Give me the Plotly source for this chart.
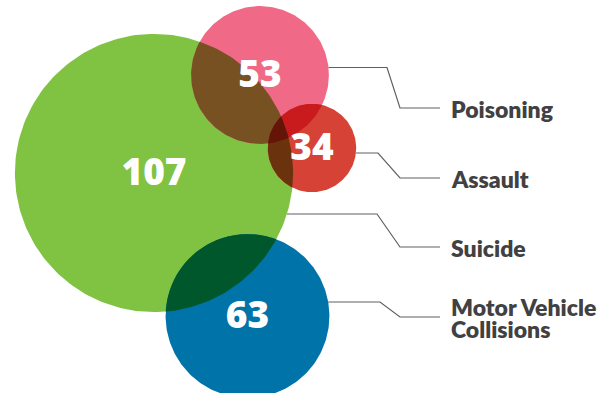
import math
import itertools
import plotly.graph_objects as go

# ---------------- data ----------------
categories = ["Poisoning", "Assault", "Suicide", "Motor Vehicle<br>Collisions"]
values = [53, 34, 107, 63]
value_labels = ["53", "34", "107", "63"]

# ---------------- layout / style ----------------
colors = ["#F06A87", "#D64236", "#80C242", "#0073A9"]
centers_x = [260, 312, 154, 247.5]
centers_y = [75, 148, 173, 316]
RADIUS_PER_UNIT = 1.30
draw_order = [2, 0, 1, 3]          # suicide, poisoning, assault, motor
NUMBER_DY = 3                      # optical vertical centering of the numbers

leader_start_y = [67.5, 153, 214, 302]
leader_elbow_x = [387, 378, 377, 380]
leader_end_y = [108, 178, 247, 317]
LEADER_DIAG_END_X = 400
LEADER_END_X = 440
LABEL_X = 449
LABEL_DY = 1
LABEL_LINE_HEIGHT = 22.6

W, H = 612, 393
radii = [RADIUS_PER_UNIT * v for v in values]


def hex_to_rgb(h):
    h = h.lstrip("#")
    return tuple(int(h[i:i + 2], 16) for i in (0, 2, 4))


def multiply(cols):
    r, g, b = 255.0, 255.0, 255.0
    for c in cols:
        cr, cg, cb = hex_to_rgb(c)
        r, g, b = r * cr / 255, g * cg / 255, b * cb / 255
    return "rgb(%d,%d,%d)" % (round(r), round(g), round(b))


def circle_poly(cx, cy, r, n=240):
    return [(cx + r * math.cos(2 * math.pi * k / n), cy + r * math.sin(2 * math.pi * k / n)) for k in range(n)]


def clip(subject, clipper):
    # Sutherland-Hodgman for a convex clipper
    def inside(p, a, b):
        return (b[0] - a[0]) * (p[1] - a[1]) - (b[1] - a[1]) * (p[0] - a[0]) >= 0

    def inter(p1, p2, a, b):
        x1, y1 = p1; x2, y2 = p2; x3, y3 = a; x4, y4 = b
        den = (x1 - x2) * (y3 - y4) - (y1 - y2) * (x3 - x4)
        if abs(den) < 1e-12:
            return p2
        t = ((x1 - x3) * (y3 - y4) - (y1 - y3) * (x3 - x4)) / den
        return (x1 + t * (x2 - x1), y1 + t * (y2 - y1))

    output = subject
    for i in range(len(clipper)):
        a, b = clipper[i], clipper[(i + 1) % len(clipper)]
        inp = output
        output = []
        if not inp:
            break
        s = inp[-1]
        for e in inp:
            if inside(e, a, b):
                if not inside(s, a, b):
                    output.append(inter(s, e, a, b))
                output.append(e)
            elif inside(s, a, b):
                output.append(inter(s, e, a, b))
            s = e
    return output


polys = [circle_poly(centers_x[i], centers_y[i], radii[i]) for i in range(len(values))]

fig = go.Figure()

# base circles
for i in draw_order:
    xs = [p[0] for p in polys[i]] + [polys[i][0][0]]
    ys = [p[1] for p in polys[i]] + [polys[i][0][1]]
    fig.add_trace(go.Scatter(x=xs, y=ys, mode="lines", fill="toself",
                             fillcolor=colors[i], line=dict(width=0, color=colors[i]),
                             hoverinfo="skip", showlegend=False))

# overlaps (multiply blend)
for size in (2, 3, 4):
    for combo in itertools.combinations(range(len(values)), size):
        poly = polys[combo[0]]
        for j in combo[1:]:
            poly = clip(poly, polys[j])
            if not poly:
                break
        if not poly or len(poly) < 3:
            continue
        col = multiply([colors[j] for j in combo])
        xs = [p[0] for p in poly] + [poly[0][0]]
        ys = [p[1] for p in poly] + [poly[0][1]]
        fig.add_trace(go.Scatter(x=xs, y=ys, mode="lines", fill="toself",
                                 fillcolor=col, line=dict(width=0, color=col),
                                 hoverinfo="skip", showlegend=False))

# leader lines
for i in range(len(values)):
    y0 = leader_start_y[i]
    x0 = centers_x[i] + math.sqrt(max(radii[i] ** 2 - (y0 - centers_y[i]) ** 2, 0))
    fig.add_trace(go.Scatter(
        x=[x0, leader_elbow_x[i], LEADER_DIAG_END_X, LEADER_END_X],
        y=[y0, y0, leader_end_y[i], leader_end_y[i]],
        mode="lines", line=dict(color="#5F6062", width=1.2),
        hoverinfo="skip", showlegend=False))

# value labels
fig.add_trace(go.Scatter(
    x=centers_x, y=[c + NUMBER_DY for c in centers_y], mode="text", text=value_labels,
    textposition="middle center",
    textfont=dict(family="Noto Sans", size=37, color="white", weight=900),
    hoverinfo="skip", showlegend=False))

# category labels (one annotation per text line for the reference's tight leading)
for i, cat in enumerate(categories):
    lines = cat.split("<br>")
    n = len(lines)
    for k, line in enumerate(lines):
        y = leader_end_y[i] + LABEL_DY + (k - (n - 1) / 2) * LABEL_LINE_HEIGHT
        fig.add_annotation(x=LABEL_X, y=y, text=line, showarrow=False,
                           xanchor="left", yanchor="middle", align="left",
                           font=dict(family="Lato", size=23, color="#414042", weight=800))

fig.update_layout(
    width=W, height=H, margin=dict(l=0, r=0, t=0, b=0),
    paper_bgcolor="white", plot_bgcolor="white",
    xaxis=dict(range=[0, W], visible=False, fixedrange=True),
    yaxis=dict(range=[H, 0], visible=False, fixedrange=True),
    showlegend=False,
)

fig.write_html("out.html", config={"displayModeBar": False},
               post_script="document.body.style.margin='0';")
